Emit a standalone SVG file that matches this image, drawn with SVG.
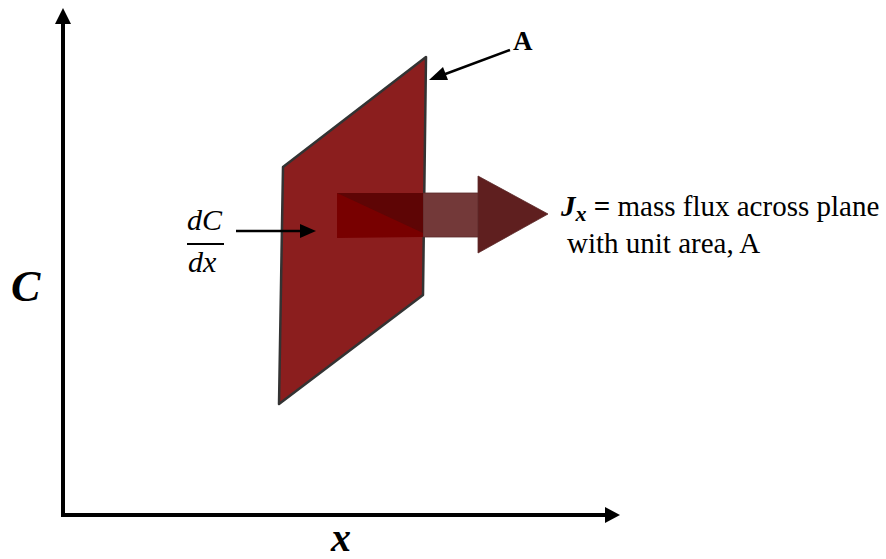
<svg xmlns="http://www.w3.org/2000/svg" width="886" height="559" viewBox="0 0 886 559">
<defs>
<style>
.ax{stroke:#000;stroke-width:4;fill:none}
.ptr{stroke:#000;stroke-width:2.5;fill:none}
.serif{font-family:"Liberation Serif","Times New Roman",serif;fill:#000}
</style>
</defs>
<rect width="886" height="559" fill="#fff"/>
<g id="plane">
<polygon points="283,167 426,57 423,295 279,404" fill="#8B1E1E" stroke="#333" stroke-width="2.5" stroke-linejoin="round"/>
</g>
<g id="flux-arrow">
<rect x="423" y="193" width="60" height="44" fill="#733939" stroke="#5a2a2a" stroke-width="0.8"/>
<polygon points="337,193 423,193 423,237 337,238" fill="#780000"/>
<polygon points="337,193 423,193 423,233" fill="#5E0505"/>
<polygon points="478,176 548,214 478,253" fill="#5F1F1F" stroke="#5a2a2a" stroke-width="0.8"/>
</g>
<g id="connectors">
<line class="ax" x1="63" y1="517" x2="63" y2="22"/>
<polygon points="55,24 63,8 71,24" fill="#000"/>
<line class="ax" x1="61" y1="515" x2="607" y2="515"/>
<polygon points="605,507 620,515 605,523" fill="#000"/>
<line class="ptr" x1="510" y1="50" x2="440" y2="76"/>
<polygon points="429,80 443,67 448,80" fill="#000"/>
<line class="ptr" x1="236" y1="231" x2="302" y2="231"/>
<polygon points="316,231 300,224 300,238" fill="#000"/>
</g>
<g id="label-A">
<text class="serif" x="513" y="50" font-size="27" font-weight="bold">A</text>
</g>
<g id="label-C">
<text class="serif" x="11" y="301" font-size="44" font-weight="bold" font-style="italic">C</text>
</g>
<g id="label-x">
<text class="serif" x="331" y="551" font-size="40" font-weight="bold" font-style="italic">x</text>
</g>
<g id="label-dCdx">
<text class="serif" x="187" y="230" font-size="30" font-style="italic">dC</text>
<line x1="187" y1="244" x2="224" y2="244" stroke="#000" stroke-width="2"/>
<text class="serif" x="188" y="272" font-size="30" font-style="italic">dx</text>
</g>
<g id="label-Jx">
<text class="serif" x="561" y="216" font-size="29"><tspan font-weight="bold" font-style="italic">J</tspan><tspan font-weight="bold" font-style="italic" font-size="22" dy="5">x</tspan><tspan dy="-5" font-weight="bold"> =</tspan> mass flux across plane</text>
<text class="serif" x="567" y="253" font-size="29">with unit area, A</text>
</g>
</svg>
